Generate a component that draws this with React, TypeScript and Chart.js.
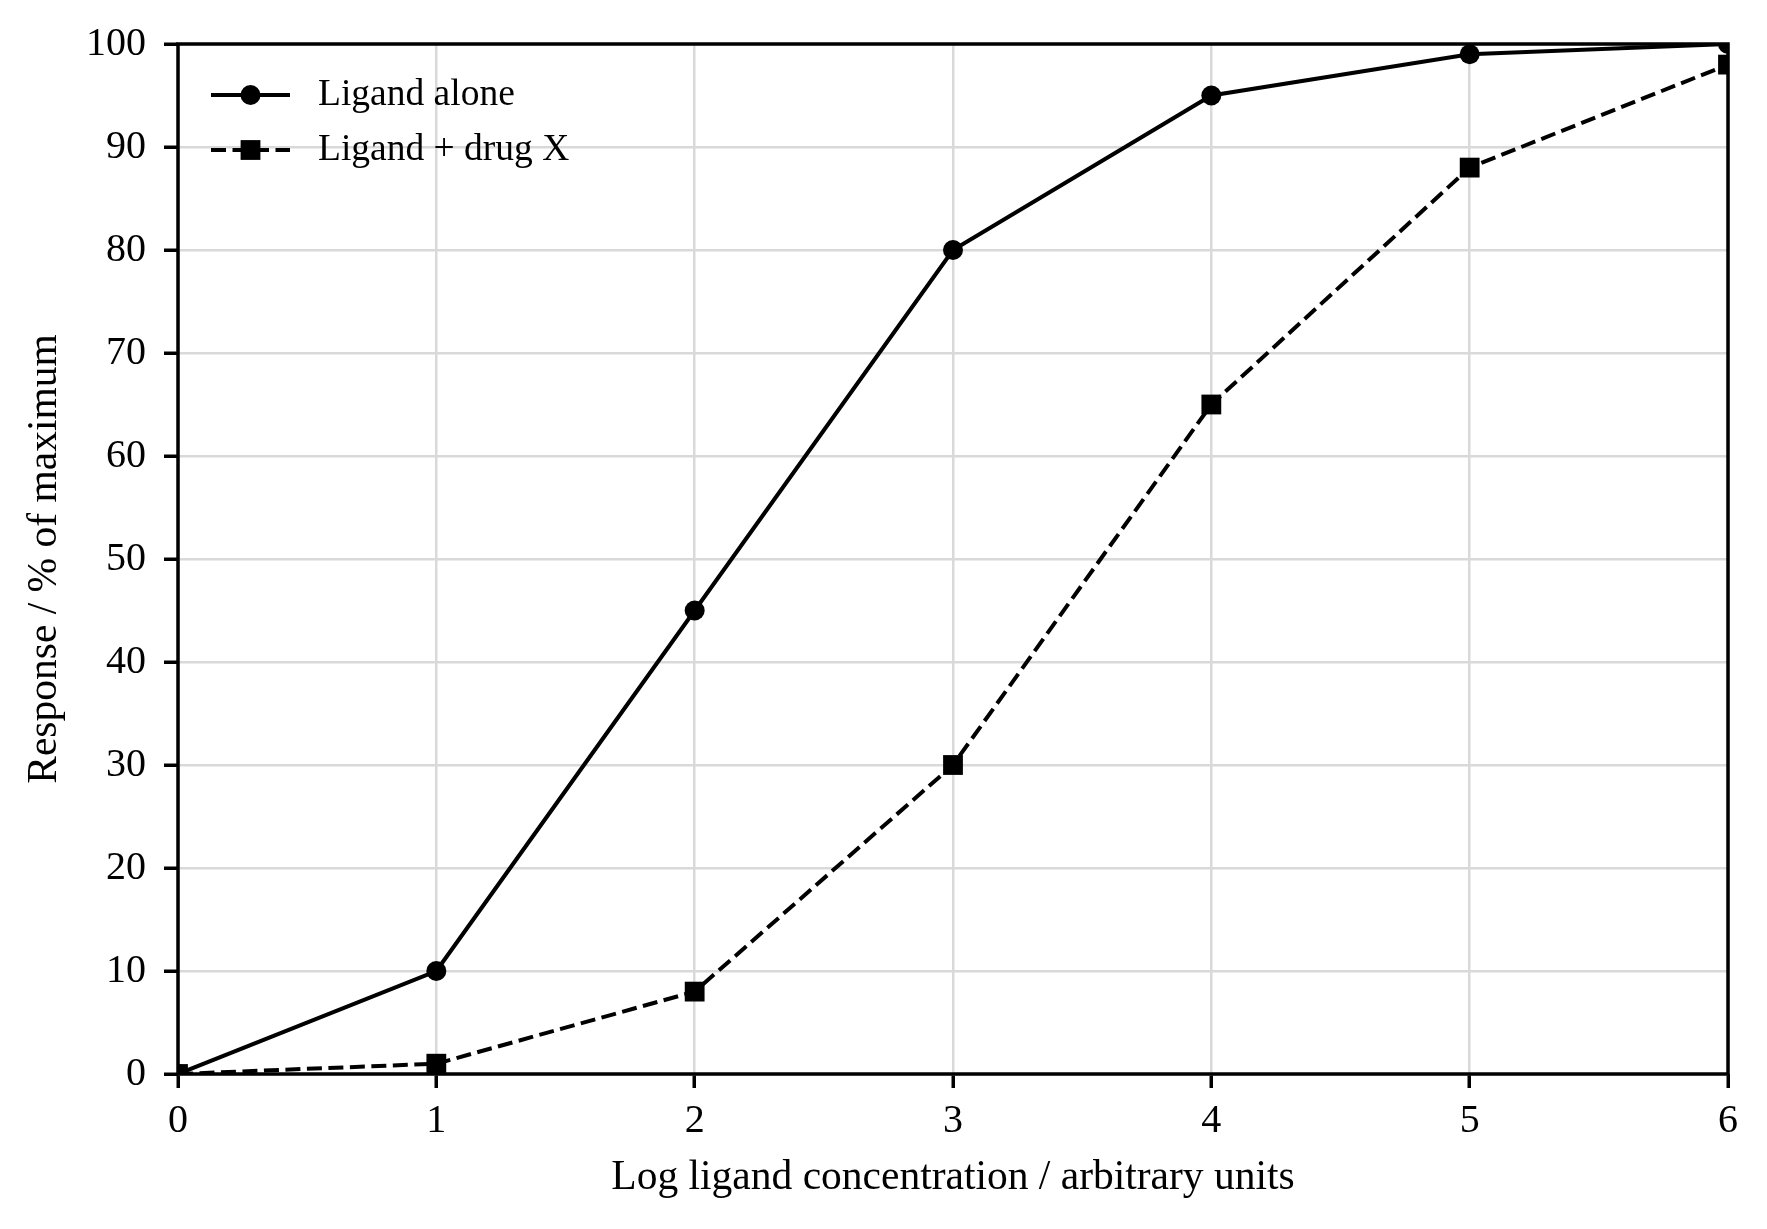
import { useEffect, useRef } from 'react';
import { Chart, registerables } from 'chart.js';

Chart.register(...registerables);

const logConc = [0, 1, 2, 3, 4, 5, 6];
const ligandAlone = [0, 10, 45, 80, 95, 99, 100];
const ligandDrugX = [0, 1, 8, 30, 65, 88, 98];
const seriesLabels = ['Ligand alone', 'Ligand + drug X'];
const xTitle = 'Log ligand concentration / arbitrary units';
const yTitle = 'Response / % of maximum';

const FONT = '"Liberation Serif", "Times New Roman", serif';

// frame around the plot area, drawn above the lines like matplotlib spines
const framePlugin = {
  id: 'frame',
  afterDatasetsDraw(chart: Chart) {
    const { ctx, chartArea } = chart;
    ctx.save();
    ctx.strokeStyle = '#000';
    ctx.lineWidth = 3.5;
    ctx.strokeRect(chartArea.left, chartArea.top, chartArea.right - chartArea.left, chartArea.bottom - chartArea.top);
    ctx.restore();
  },
};

// legend with line + marker samples, no frame
const legendPlugin = {
  id: 'lineLegend',
  afterDraw(chart: Chart) {
    const { ctx, chartArea } = chart;
    const x0 = chartArea.left + 33;
    const lineLen = 79;
    ctx.save();
    chart.data.datasets.forEach((ds: any, i: number) => {
      const y = chartArea.top + 51 + i * 55;
      ctx.strokeStyle = ds.borderColor;
      ctx.lineWidth = ds.borderWidth;
      ctx.setLineDash(ds.borderDash || []);
      ctx.beginPath();
      ctx.moveTo(x0, y);
      ctx.lineTo(x0 + lineLen, y);
      ctx.stroke();
      ctx.setLineDash([]);
      ctx.fillStyle = ds.pointBackgroundColor;
      const cx = x0 + lineLen / 2;
      if (ds.pointStyle === 'rect') {
        const s = ds.pointRadius * Math.SQRT1_2;
        ctx.fillRect(cx - s, y - s, 2 * s, 2 * s);
      } else {
        ctx.beginPath();
        ctx.arc(cx, y, ds.pointRadius, 0, Math.PI * 2);
        ctx.fill();
      }
      ctx.fillStyle = '#000';
      ctx.font = `37.5px ${FONT}`;
      ctx.textBaseline = 'middle';
      ctx.textAlign = 'left';
      ctx.fillText(ds.label, x0 + lineLen + 28, y);
    });
    ctx.restore();
  },
};

const App = () => {
  const canvasRef = useRef<HTMLCanvasElement>(null);

  useEffect(() => {
    document.body.style.margin = '0';
    if (!canvasRef.current) return;

    const chart = new Chart(canvasRef.current, {
      type: 'line',
      data: {
        datasets: [
          {
            label: seriesLabels[0],
            data: logConc.map((x, i) => ({ x, y: ligandAlone[i] })),
            borderColor: '#000',
            backgroundColor: '#000',
            borderWidth: 4,
            pointStyle: 'circle',
            pointRadius: 10,
            pointBackgroundColor: '#000',
            pointBorderWidth: 0,
            tension: 0,
          },
          {
            label: seriesLabels[1],
            data: logConc.map((x, i) => ({ x, y: ligandDrugX[i] })),
            borderColor: '#000',
            backgroundColor: '#000',
            borderWidth: 4,
            borderDash: [15, 6.5],
            pointStyle: 'rect',
            pointRadius: 14,
            pointBackgroundColor: '#000',
            pointBorderWidth: 0,
            tension: 0,
          },
        ],
      },
      options: {
        responsive: true,
        maintainAspectRatio: false,
        animation: false,
        layout: { padding: { top: 44, right: 39, left: 0, bottom: 0 } },
        plugins: {
          legend: { display: false },
          tooltip: { enabled: false },
        },
        scales: {
          x: {
            type: 'linear',
            min: 0,
            max: 6,
            afterFit: (scale: any) => {
              scale.height = 155;
            },
            ticks: {
              stepSize: 1,
              padding: 9,
              color: '#000',
              font: { family: FONT, size: 40 },
            },
            grid: {
              color: '#d9d9d9',
              lineWidth: 2.5,
              drawTicks: true,
              tickLength: 14,
              tickColor: '#000',
              tickWidth: 3.5,
            },
            border: { display: false },
            title: {
              display: true,
              text: xTitle,
              color: '#000',
              font: { family: FONT, size: 41.5 },
              padding: { top: 0, bottom: 26 },
            },
          },
          y: {
            type: 'linear',
            min: 0,
            max: 100,
            afterFit: (scale: any) => {
              scale.width = 178;
            },
            ticks: {
              stepSize: 10,
              padding: 18,
              color: '#000',
              font: { family: FONT, size: 40 },
            },
            grid: {
              color: '#d9d9d9',
              lineWidth: 2.5,
              drawTicks: true,
              tickLength: 14,
              tickColor: '#000',
              tickWidth: 3.5,
            },
            border: { display: false },
            title: {
              display: true,
              text: yTitle,
              color: '#000',
              font: { family: FONT, size: 41.5 },
              padding: { top: 20, bottom: 0 },
            },
          },
        },
      },
      plugins: [framePlugin, legendPlugin],
    });

    return () => {
      chart.destroy();
    };
  }, []);

  return (
    <div style={{ width: '1767px', height: '1229px', position: 'relative', background: '#fff' }}>
      <canvas ref={canvasRef} />
    </div>
  );
};

export default App;
